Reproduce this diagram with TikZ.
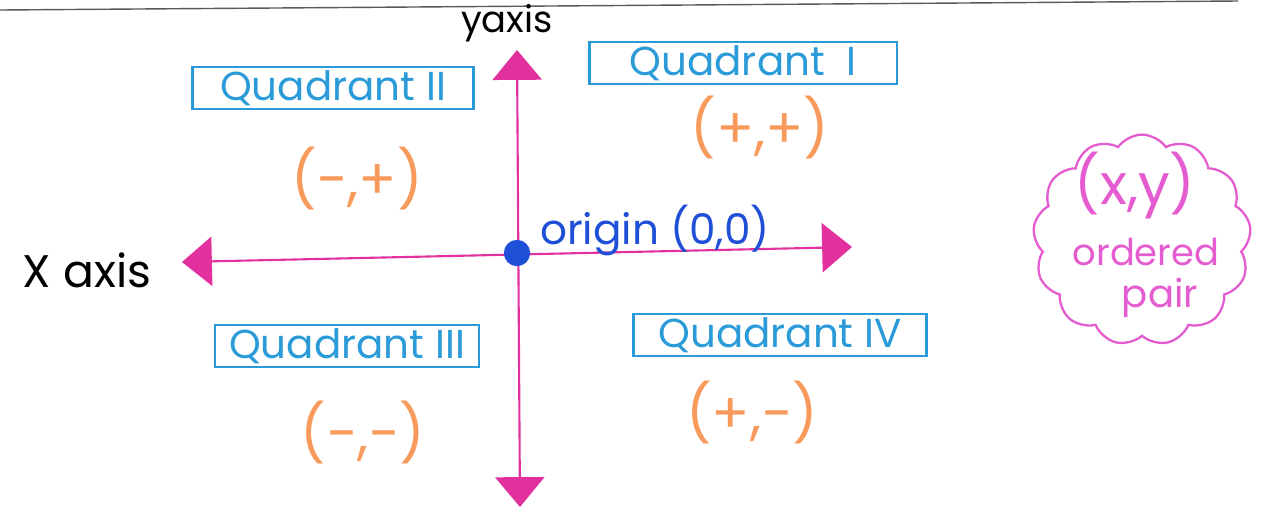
\documentclass[tikz,border=0pt]{standalone}
\usepackage{fontspec}
\setmainfont{Poppins}
\usepackage{tikz}
\usetikzlibrary{shapes.symbols,arrows.meta,positioning}

\definecolor{axispink}{HTML}{E2309E}
\definecolor{boxblue}{HTML}{2A9BD8}
\definecolor{signorange}{HTML}{F79A5C}
\definecolor{originblue}{HTML}{1F4FD6}
\definecolor{cloudpink}{HTML}{E45CD0}

\begin{document}
\begin{tikzpicture}[x=0.02cm, y=-0.02cm]
\tikzstyle{quad} = [rectangle, draw=boxblue, line width=1.4pt, text=boxblue, minimum height=24pt, inner ysep=2pt, font=\fontsize{23}{26}\selectfont]
\tikzstyle{sign} = [text=signorange, font=\fontsize{32}{36}\selectfont]
\tikzstyle{axis} = [axispink, line width=1.2pt, {Triangle[width=28pt,length=17pt]}-{Triangle[width=28pt,length=17pt]}]
\tikzstyle{label} = [text=black, font=\fontsize{23}{26}\selectfont]

\useasboundingbox (0,0) rectangle (1285,515);
\draw[gray!70!black, line width=0.8pt] (0,10) -- (1238,1);

% axes
\coordinate (xl) at (182,262);
\coordinate (xr) at (852,247);
\coordinate (yt) at (517,50);
\coordinate (yb) at (520,507);
\draw[axis] (xl) -- (xr);
\draw[axis] (yb) -- (yt);
\node[circle, fill=originblue, inner sep=0pt, minimum size=15pt] (origin) at (517,253) {};

\node[label, font=\fontsize{21}{24}\selectfont] (ylab) at (507,23) {yaxis};
\node[label, font=\fontsize{26}{30}\selectfont] (xlab) at (87,270) {X axis};
\node[text=originblue, font=\fontsize{24}{28}\selectfont] (olab) at (655,230) {origin (0,0)};

% quadrants
\node[quad, minimum width=160pt] (q2) at (333,88) {Quadrant II};
\node[quad, minimum width=175pt] (q1) at (743,63) {Quadrant~~I};
\node[quad, minimum width=150pt] (q3) at (347,346) {Quadrant III};
\node[quad, minimum width=167pt] (q4) at (780,335) {Quadrant~IV};

\node[sign] (s2) at (357,178) {(−,+)};
\node[sign] (s1) at (760,127) {(+,+)};
\node[sign] (s3) at (363,432) {(−,−)};
\node[sign] (s4) at (752,412) {(+,−)};

% ordered pair note
\node[cloud, cloud puffs=13, cloud puff arc=110, draw=cloudpink, line width=1.3pt, minimum width=124pt, minimum height=120pt, aspect=1.05] (pair) at (1142,240) {};
\node[text=cloudpink, font=\fontsize{32}{36}\selectfont] (xy) at (1135,185) {(x,y)};
\node[text=cloudpink, font=\fontsize{21}{24}\selectfont] (ord) at (1146,252) {ordered};
\node[text=cloudpink, font=\fontsize{22}{25}\selectfont] (pr) at (1160,298) {pair};
\end{tikzpicture}
\end{document}
